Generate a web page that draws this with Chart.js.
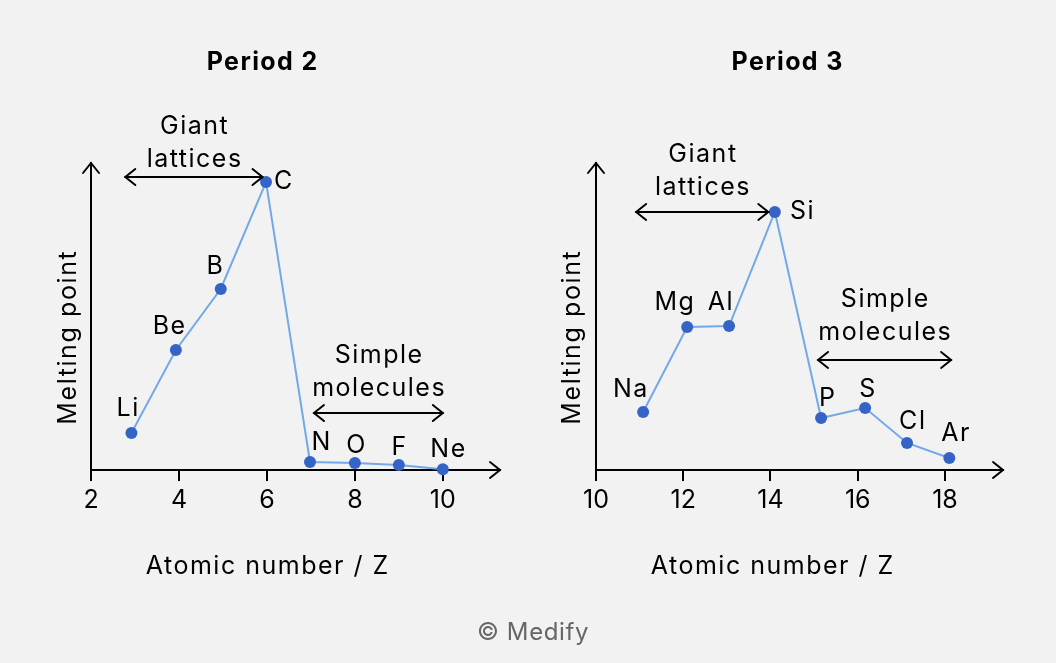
<!DOCTYPE html>
<html>
<head>
<meta charset="utf-8">
<script src="https://cdn.jsdelivr.net/npm/chart.js@4.4.1/dist/chart.umd.min.js"></script>
<style>
  html, body { margin: 0; background: #f2f2f2; }
  #wrap { position: relative; width: 1056px; height: 663px; overflow: hidden; }
  canvas { position: absolute; top: 0; }
  #p2 { left: 0; }
  #p3 { left: 528px; }
  #credit {
    position: absolute; left: 0; top: 617px; width: 1066px;
    text-align: center; font: 24px Inter, sans-serif; color: #666; letter-spacing: 0.6px;
  }
</style>
</head>
<body>
<div id="wrap">
  <canvas id="p2" width="528" height="663"></canvas>
  <canvas id="p3" width="528" height="663"></canvas>
  <div id="credit">© Medify</div>
</div>
<script>
// Period 2
const period2Symbols = ['Li', 'Be', 'B', 'C', 'N', 'O', 'F', 'Ne'];
const period2Z = [2.92, 3.93, 4.95, 5.98, 6.98, 8, 9, 10];
const period2MeltingPoint = [487, 1580, 2382, 3790, 105, 92, 66, 10];
const period2Ticks = [2, 4, 6, 8, 10];

// Period 3
const period3Symbols = ['Na', 'Mg', 'Al', 'Si', 'P', 'S', 'Cl', 'Ar'];
const period3Z = [11.08, 12.09, 13.05, 14.1, 15.16, 16.17, 17.13, 18.1];
const period3MeltingPoint = [378, 932, 938, 1681, 339, 404, 176, 78];
const period3Ticks = [10, 12, 14, 16, 18];

const FONT = 'Inter, sans-serif';
const POINT_COLOR = '#3563c6';
const LINE_COLOR = '#72a9e6';

const panels = [
  {
    id: 'p2', title: 'Period 2',
    symbols: period2Symbols, z: period2Z, mp: period2MeltingPoint, ticks: period2Ticks,
    xMin: 2, xMax: 11.3, yMax: 4040,
    padLeft: 91, padRight: 28,
    titleX: 262, xLabelX: 267, yLabelX: 68,
    labelOffsets: [[-4, -25], [-7, -23], [-6, -23], [17, -1], [11, -20], [1, -18], [0, -18], [5, -20]],
    notes: [
      { from: 2.78, to: 5.9, y: 3855, lines: ['Giant', 'lattices'], lift: 51 },
      { from: 7.07, to: 10, y: 750, lines: ['Simple', 'molecules'], lift: 58 }
    ]
  },
  {
    id: 'p3', title: 'Period 3',
    symbols: period3Symbols, z: period3Z, mp: period3MeltingPoint, ticks: period3Ticks,
    xMin: 10, xMax: 19.33, yMax: 2000,
    padLeft: 68, padRight: 53,
    titleX: 259, xLabelX: 244, yLabelX: 44,
    labelOffsets: [[-13, -22], [-13, -24], [-9, -24], [27, 0], [6, -19], [2, -19], [5, -21], [6, -25]],
    notes: [
      { from: 10.92, to: 13.95, y: 1681, lines: ['Giant', 'lattices'], lift: 57 },
      { from: 15.09, to: 18.14, y: 717, lines: ['Simple', 'molecules'], lift: 60 }
    ]
  }
];

function chevron(ctx, x, y, dx, dy) {
  // open arrow head pointing along (dx, dy)
  const len = 10, half = 8;
  const px = -dy, py = dx;
  ctx.beginPath();
  ctx.moveTo(x - dx * len + px * half, y - dy * len + py * half);
  ctx.lineTo(x, y);
  ctx.lineTo(x - dx * len - px * half, y - dy * len - py * half);
  ctx.stroke();
}

// letter spacing is added after every glyph, so shift centred text back by half of it
function spacedText(ctx, text, x, y, spacing) {
  ctx.letterSpacing = spacing + 'px';
  ctx.fillText(text, x + spacing / 2, y);
  ctx.letterSpacing = '0px';
}

const decorPlugin = {
  id: 'decor',
  afterDraw(chart) {
    const p = chart.options.plugins.decor.panel;
    const { ctx, chartArea } = chart;
    const xs = chart.scales.x, ys = chart.scales.y;
    ctx.save();
    ctx.strokeStyle = '#000';
    ctx.lineWidth = 2;
    ctx.lineCap = 'round';
    ctx.lineJoin = 'miter';

    // axis arrow heads
    chevron(ctx, chartArea.left, chartArea.top, 0, -1);
    chevron(ctx, chartArea.right, chartArea.bottom, 1, 0);

    ctx.fillStyle = '#000';
    ctx.textAlign = 'center';
    ctx.textBaseline = 'middle';

    // range notes with double arrows
    ctx.font = '25px ' + FONT;
    p.notes.forEach(n => {
      const x1 = xs.getPixelForValue(n.from);
      const x2 = xs.getPixelForValue(n.to);
      const y = ys.getPixelForValue(n.y);
      ctx.beginPath();
      ctx.moveTo(x1, y);
      ctx.lineTo(x2, y);
      ctx.stroke();
      chevron(ctx, x1, y, -1, 0);
      chevron(ctx, x2, y, 1, 0);
      const mid = (x1 + x2) / 2;
      spacedText(ctx, n.lines[0], mid, y - n.lift, 1.5);
      spacedText(ctx, n.lines[1], mid, y - n.lift + 33, 1.5);
    });

    // element symbols
    const meta = chart.getDatasetMeta(0);
    meta.data.forEach((pt, i) => {
      const [dx, dy] = p.labelOffsets[i];
      spacedText(ctx, p.symbols[i], pt.x + dx, pt.y + dy, 1.5);
    });

    // titles
    ctx.font = 'bold 25px ' + FONT;
    spacedText(ctx, p.title, p.titleX, 62, 1.4);
    ctx.font = '25px ' + FONT;
    spacedText(ctx, 'Atomic number / Z', p.xLabelX, 566, 1.5);
    ctx.translate(p.yLabelX, 338);
    ctx.rotate(-Math.PI / 2);
    spacedText(ctx, 'Melting point', 0, 0, 1.6);
    ctx.restore();
  }
};

panels.forEach(p => {
  new Chart(document.getElementById(p.id), {
    type: 'scatter',
    data: {
      datasets: [{
        data: p.z.map((z, i) => ({ x: z, y: p.mp[i] })),
        showLine: true,
        borderColor: LINE_COLOR,
        borderWidth: 2,
        pointRadius: 6,
        pointBackgroundColor: POINT_COLOR,
        pointBorderWidth: 0,
        clip: false
      }]
    },
    options: {
      responsive: false,
      devicePixelRatio: 1,
      animation: false,
      layout: { padding: { left: p.padLeft, right: p.padRight, top: 163, bottom: 0 } },
      plugins: {
        legend: { display: false },
        tooltip: { enabled: false },
        decor: { panel: p }
      },
      scales: {
        x: {
          type: 'linear',
          min: p.xMin,
          max: p.xMax,
          afterBuildTicks: s => { s.ticks = p.ticks.map(v => ({ value: v })); },
          afterFit: s => { s.height = 193; },
          grid: { drawOnChartArea: false, color: '#000', lineWidth: 2, tickLength: 11 },
          border: { color: '#000', width: 2 },
          ticks: { color: '#000', font: { family: FONT, size: 25 }, padding: 4, maxRotation: 0 }
        },
        y: {
          min: 0,
          max: p.yMax,
          afterFit: s => { s.width = 0; },
          grid: { drawOnChartArea: false, drawTicks: false },
          border: { color: '#000', width: 2 },
          ticks: { display: false }
        }
      }
    },
    plugins: [decorPlugin]
  });
});
</script>
</body>
</html>
